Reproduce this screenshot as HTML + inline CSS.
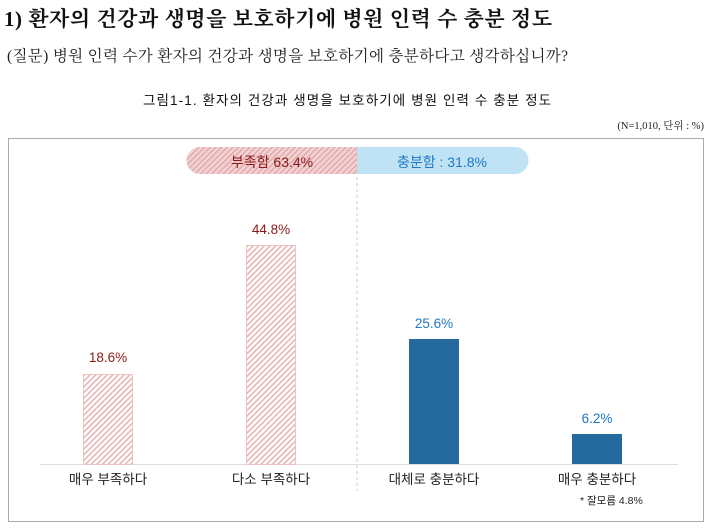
<!DOCTYPE html>
<html><head><meta charset="utf-8"><style>
body{margin:0;background:#fff;width:712px;height:532px;overflow:hidden}
svg{display:block}
text{font-family:"Liberation Sans","Noto Sans CJK KR",sans-serif}
.s{font-family:"Liberation Serif","Noto Serif CJK SC",serif}
</style></head><body>
<svg width="712" height="532" viewBox="0 0 712 532">
<defs>
<pattern id="h" width="4" height="4" patternUnits="userSpaceOnUse" patternTransform="rotate(45)">
<rect width="4" height="4" fill="#fff"/><rect width="1.6" height="4" fill="#e8b4b4"/>
</pattern>
<pattern id="h2" width="4" height="4" patternUnits="userSpaceOnUse" patternTransform="rotate(45)">
<rect width="4" height="4" fill="#f1d3d4"/><rect width="1.5" height="4" fill="#e4a9ac"/>
</pattern>
</defs>
<text x="4" y="26" class="s" font-size="21" font-weight="bold" fill="#111" textLength="548" lengthAdjust="spacing">1) 환자의 건강과 생명을 보호하기에 병원 인력 수 충분 정도</text>
<text x="7" y="61" class="s" font-size="15.5" fill="#222" textLength="561" lengthAdjust="spacing">(질문) 병원 인력 수가 환자의 건강과 생명을 보호하기에 충분하다고 생각하십니까?</text>
<text x="143" y="105" font-size="13.5" fill="#111" textLength="408" lengthAdjust="spacing">그림1-1. 환자의 건강과 생명을 보호하기에 병원 인력 수 충분 정도</text>
<text x="704" y="129" text-anchor="end" class="s" font-size="10.5" fill="#222">(N=1,010, 단위 : %)</text>
<rect x="8.5" y="138.5" width="695" height="383" fill="#fff" stroke="#aaa"/>
<path d="M200 147H357V174H200A13.5 13.5 0 0 1 200 147Z" fill="url(#h2)"/>
<path d="M357 147H515A13.5 13.5 0 0 1 515 174H357Z" fill="#bfe3f5"/>
<text x="272" y="167" text-anchor="middle" font-size="14" fill="#8b1a1a">부족함 63.4%</text>
<text x="442" y="167" text-anchor="middle" font-size="14" fill="#1f78c8">충분함 : 31.8%</text>
<line x1="357" y1="147" x2="357" y2="491" stroke="#c8c8c8" stroke-dasharray="3,3"/>
<line x1="40" y1="464.5" x2="678" y2="464.5" stroke="#ddd"/>
<rect x="83.5" y="374.5" width="49" height="90" fill="url(#h)" stroke="#eac3c3"/>
<rect x="246.5" y="245.5" width="49" height="219" fill="url(#h)" stroke="#eac3c3"/>
<rect x="409" y="339" width="50" height="125" fill="#246a9f"/>
<rect x="572" y="434" width="50" height="30" fill="#246a9f"/>
<g font-size="13.5">
<text x="108" y="362" text-anchor="middle" fill="#8b1a1a">18.6%</text>
<text x="271" y="234" text-anchor="middle" fill="#8b1a1a">44.8%</text>
<text x="434" y="328" text-anchor="middle" fill="#1f78c8">25.6%</text>
<text x="597" y="423" text-anchor="middle" fill="#1f78c8">6.2%</text>
<text x="108" y="484" text-anchor="middle" fill="#222">매우 부족하다</text>
<text x="271" y="484" text-anchor="middle" fill="#222">다소 부족하다</text>
<text x="434" y="484" text-anchor="middle" fill="#222">대체로 충분하다</text>
<text x="597" y="484" text-anchor="middle" fill="#222">매우 충분하다</text>
</g>
<text x="580" y="504" font-size="10.5" fill="#222">* 잘모름 4.8%</text>
</svg>
</body></html>
